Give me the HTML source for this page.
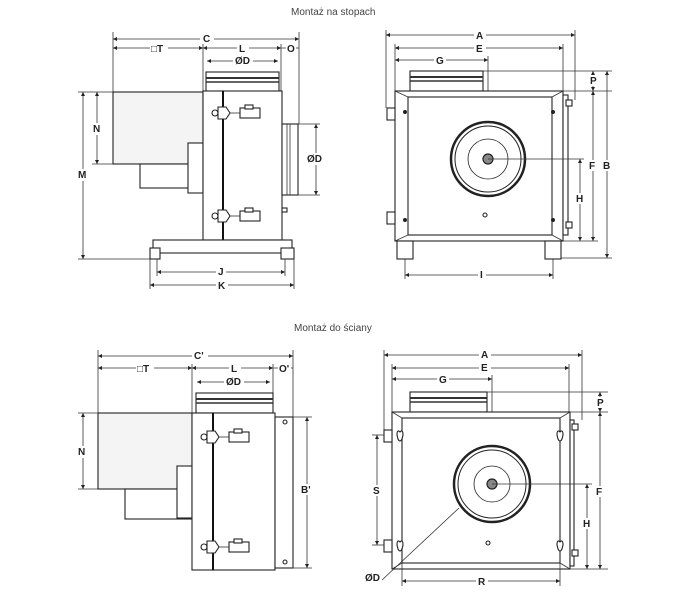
<!DOCTYPE html>
<html><head><meta charset="utf-8"><style>
html,body{margin:0;padding:0;background:#fff;}
svg{display:block;}
text{font-family:"Liberation Sans",sans-serif;font-weight:bold;font-size:10px;fill:#222;}
.t{font-weight:normal;font-size:10px;fill:#444;}
.d{stroke:#333;stroke-width:0.8;fill:none;}
.s{stroke:#222;stroke-width:1.1;fill:#fff;}
.g{stroke:#222;stroke-width:1.1;fill:#f4f4f4;}
</style></head><body>
<svg width="688" height="600" viewBox="0 0 688 600" xmlns="http://www.w3.org/2000/svg">
<defs>
<marker id="a" viewBox="0 0 6 6" refX="6" refY="3" markerWidth="5" markerHeight="5" orient="auto-start-reverse"><path d="M0,0L6,3L0,6z" fill="#222"/></marker>
</defs>
<text class="t" x="291" y="15">Montaż na stopach</text>
<text class="t" x="294" y="331">Montaż do ściany</text>

<!-- ===== TOP LEFT ===== -->
<g>
<line class="d" x1="113" y1="32" x2="113" y2="92"/><line class="d" x1="299" y1="32" x2="299" y2="124"/>
<line class="d" x1="113" y1="39" x2="299" y2="39" marker-start="url(#a)" marker-end="url(#a)"/>
<rect x="200" y="33" width="14" height="11" fill="#fff"/><text x="203" y="42">C</text>
<line class="d" x1="113" y1="48" x2="203" y2="48" marker-start="url(#a)" marker-end="url(#a)"/>
<line class="d" x1="203" y1="48" x2="281" y2="48" marker-start="url(#a)" marker-end="url(#a)"/>
<line class="d" x1="281" y1="48" x2="299" y2="48"/>
<line class="d" x1="203" y1="44" x2="203" y2="92"/><line class="d" x1="281" y1="44" x2="281" y2="92"/>
<rect x="150" y="43" width="18" height="10" fill="#fff"/><text x="151" y="52">□T</text>
<rect x="237" y="43" width="12" height="10" fill="#fff"/><text x="239" y="52">L</text>
<rect x="286" y="43" width="10" height="10" fill="#fff"/><text x="287" y="52">O</text>
<line class="d" x1="207" y1="61" x2="278" y2="61" marker-start="url(#a)" marker-end="url(#a)"/>
<rect x="233" y="55" width="20" height="11" fill="#fff"/><text x="235" y="64">ØD</text>
<rect class="s" x="206" y="72" width="73" height="20"/>
<line class="d" x1="206" y1="78" x2="279" y2="78" style="stroke-width:2"/><line class="d" x1="206" y1="82" x2="279" y2="82" style="stroke-width:1.5"/>
<rect class="g" x="113" y="92" width="90" height="72"/>
<rect class="s" x="140" y="164" width="63" height="24"/>
<rect class="s" x="188" y="143" width="15" height="50"/>
<rect class="s" x="203" y="91" width="20" height="149"/>
<rect class="s" x="223" y="91" width="59" height="149"/>
<line x1="223" y1="91" x2="223" y2="240" stroke="#111" stroke-width="2"/>
<rect class="s" x="282" y="124" width="16" height="71"/>
<line class="d" x1="287" y1="124" x2="287" y2="195"/><line class="d" x1="290" y1="124" x2="290" y2="195"/>
<g id="latch"><circle cx="215" cy="113" r="3" class="s"/><path d="M218,107L226,107L230,113L226,119L218,119z" class="s"/><line class="d" x1="230" y1="113" x2="240" y2="113"/><rect class="s" x="240" y="108" width="20" height="10"/><rect class="s" x="245" y="105" width="8" height="4"/></g>
<use href="#latch" transform="translate(0,103)"/>
<rect class="s" x="282" y="208" width="5" height="4"/>
<rect class="s" x="153" y="240" width="139" height="13"/>
<rect class="s" x="150" y="248" width="10" height="11"/><rect class="s" x="281" y="248" width="13" height="11"/>
<line class="d" x1="157" y1="259" x2="157" y2="276"/><line class="d" x1="285" y1="259" x2="285" y2="276"/>
<line class="d" x1="157" y1="272" x2="285" y2="272" marker-start="url(#a)" marker-end="url(#a)"/>
<rect x="216" y="266" width="10" height="11" fill="#fff"/><text x="218" y="275">J</text>
<line class="d" x1="150" y1="259" x2="150" y2="289"/><line class="d" x1="294" y1="259" x2="294" y2="289"/>
<line class="d" x1="150" y1="285" x2="294" y2="285" marker-start="url(#a)" marker-end="url(#a)"/>
<rect x="216" y="279" width="12" height="11" fill="#fff"/><text x="218" y="289">K</text>
<line class="d" x1="78" y1="92" x2="113" y2="92"/><line class="d" x1="78" y1="259" x2="150" y2="259"/><line class="d" x1="92" y1="164" x2="113" y2="164"/>
<line class="d" x1="83" y1="92" x2="83" y2="259" marker-start="url(#a)" marker-end="url(#a)"/>
<rect x="77" y="169" width="12" height="12" fill="#fff"/><text x="78" y="178">M</text>
<line class="d" x1="97" y1="92" x2="97" y2="164" marker-start="url(#a)" marker-end="url(#a)"/>
<rect x="91" y="123" width="12" height="12" fill="#fff"/><text x="93" y="132">N</text>
<line class="d" x1="298" y1="124" x2="320" y2="124"/><line class="d" x1="298" y1="195" x2="320" y2="195"/>
<line class="d" x1="316" y1="124" x2="316" y2="195" marker-start="url(#a)" marker-end="url(#a)"/>
<rect x="306" y="153" width="20" height="12" fill="#fff"/><text x="307" y="162">ØD</text>
</g>

<!-- ===== TOP RIGHT ===== -->
<g>
<line class="d" x1="386" y1="30" x2="386" y2="108"/><line class="d" x1="575" y1="30" x2="575" y2="100"/>
<line class="d" x1="386" y1="35" x2="575" y2="35" marker-start="url(#a)" marker-end="url(#a)"/>
<rect x="474" y="30" width="12" height="10" fill="#fff"/><text x="476" y="39">A</text>
<line class="d" x1="395" y1="44" x2="395" y2="91"/><line class="d" x1="563" y1="44" x2="563" y2="91"/>
<line class="d" x1="395" y1="48" x2="563" y2="48" marker-start="url(#a)" marker-end="url(#a)"/>
<rect x="474" y="43" width="12" height="10" fill="#fff"/><text x="476" y="52">E</text>
<line class="d" x1="395" y1="60" x2="488" y2="60" marker-start="url(#a)" marker-end="url(#a)"/>
<rect x="434" y="55" width="12" height="10" fill="#fff"/><text x="436" y="64">G</text>
<line class="d" x1="488" y1="56" x2="488" y2="159"/>
<rect class="s" x="410" y="71" width="73" height="20"/>
<line class="d" x1="410" y1="77" x2="483" y2="77" style="stroke-width:2"/><line class="d" x1="410" y1="81" x2="483" y2="81" style="stroke-width:1.5"/>
<line class="d" x1="483" y1="71" x2="612" y2="71"/>
<rect class="s" x="395" y="91" width="168" height="150"/>
<rect class="s" x="408" y="97" width="144" height="138"/>
<line class="d" x1="395" y1="91" x2="408" y2="97"/><line class="d" x1="563" y1="91" x2="552" y2="97"/><line class="d" x1="395" y1="241" x2="408" y2="235"/><line class="d" x1="563" y1="241" x2="552" y2="235"/>
<rect class="s" x="563" y="95" width="5" height="140"/>
<rect class="s" x="387" y="108" width="8" height="12"/><rect class="s" x="387" y="212" width="8" height="12"/>
<rect class="s" x="566" y="100" width="6" height="6"/><rect class="s" x="566" y="222" width="6" height="6"/>
<circle cx="405" cy="112" r="2" fill="#222"/><circle cx="553" cy="112" r="2" fill="#222"/><circle cx="405" cy="220" r="2" fill="#222"/><circle cx="553" cy="220" r="2" fill="#222"/>
<circle cx="488" cy="159" r="37" fill="#fff" stroke="#222" stroke-width="2.5"/>
<circle cx="488" cy="159" r="33" fill="none" stroke="#222" stroke-width="1"/>
<circle cx="488" cy="159" r="20" fill="none" stroke="#222" stroke-width="0.8"/>
<circle cx="488" cy="159" r="5" fill="#888" stroke="#222" stroke-width="1.2"/>
<circle cx="485" cy="215" r="2" class="s"/>
<line class="d" x1="488" y1="159" x2="584" y2="159"/>
<rect class="s" x="397" y="241" width="16" height="18"/><rect class="s" x="545" y="241" width="16" height="18"/>
<line class="d" x1="563" y1="91" x2="612" y2="91"/><line class="d" x1="563" y1="241" x2="598" y2="241"/><line class="d" x1="561" y1="258" x2="612" y2="258"/>
<line class="d" x1="593" y1="71" x2="593" y2="91" marker-start="url(#a)" marker-end="url(#a)"/>
<rect x="589" y="75" width="10" height="11" fill="#fff"/><text x="590" y="84">P</text>
<line class="d" x1="593" y1="91" x2="593" y2="241" marker-start="url(#a)" marker-end="url(#a)"/>
<rect x="588" y="160" width="10" height="11" fill="#fff"/><text x="589" y="169">F</text>
<line class="d" x1="607" y1="71" x2="607" y2="258" marker-start="url(#a)" marker-end="url(#a)"/>
<rect x="602" y="160" width="10" height="11" fill="#fff"/><text x="603" y="169">B</text>
<line class="d" x1="580" y1="159" x2="580" y2="241" marker-start="url(#a)" marker-end="url(#a)"/>
<rect x="575" y="193" width="10" height="11" fill="#fff"/><text x="576" y="202">H</text>
<line class="d" x1="405" y1="259" x2="405" y2="279"/><line class="d" x1="553" y1="259" x2="553" y2="279"/>
<line class="d" x1="405" y1="275" x2="553" y2="275" marker-start="url(#a)" marker-end="url(#a)"/>
<rect x="478" y="269" width="8" height="11" fill="#fff"/><text x="480" y="278">I</text>
</g>

<!-- ===== BOTTOM LEFT ===== -->
<g>
<line class="d" x1="98" y1="350" x2="98" y2="413"/><line class="d" x1="293" y1="350" x2="293" y2="417"/>
<line class="d" x1="98" y1="356" x2="293" y2="356" marker-start="url(#a)" marker-end="url(#a)"/>
<rect x="192" y="350" width="16" height="11" fill="#fff"/><text x="194" y="359">C'</text>
<line class="d" x1="98" y1="368" x2="192" y2="368" marker-start="url(#a)" marker-end="url(#a)"/>
<line class="d" x1="192" y1="368" x2="273" y2="368" marker-start="url(#a)" marker-end="url(#a)"/>
<line class="d" x1="273" y1="368" x2="293" y2="368"/>
<line class="d" x1="192" y1="364" x2="192" y2="413"/><line class="d" x1="273" y1="364" x2="273" y2="393"/>
<rect x="136" y="363" width="18" height="10" fill="#fff"/><text x="137" y="372">□T</text>
<rect x="229" y="363" width="12" height="10" fill="#fff"/><text x="231" y="372">L</text>
<rect x="278" y="363" width="13" height="10" fill="#fff"/><text x="279" y="372">O'</text>
<line class="d" x1="197" y1="382" x2="270" y2="382" marker-start="url(#a)" marker-end="url(#a)"/>
<rect x="224" y="376" width="20" height="11" fill="#fff"/><text x="226" y="385">ØD</text>
<rect class="s" x="196" y="393" width="77" height="20"/>
<line class="d" x1="196" y1="399" x2="273" y2="399" style="stroke-width:2"/><line class="d" x1="196" y1="403" x2="273" y2="403" style="stroke-width:1.5"/>
<rect class="g" x="98" y="413" width="94" height="76"/>
<rect class="s" x="125" y="489" width="67" height="30"/>
<rect class="s" x="177" y="466" width="15" height="52"/>
<rect class="s" x="192" y="413" width="21" height="157"/>
<rect class="s" x="213" y="413" width="62" height="157"/>
<line x1="213" y1="413" x2="213" y2="570" stroke="#111" stroke-width="2"/>
<rect class="s" x="275" y="417" width="18" height="151"/>
<circle cx="285" cy="422" r="2" class="s"/><circle cx="285" cy="562" r="2" class="s"/>
<use href="#latch" transform="translate(-11,324)"/>
<use href="#latch" transform="translate(-11,434)"/>
<line class="d" x1="293" y1="417" x2="312" y2="417"/><line class="d" x1="293" y1="568" x2="312" y2="568"/>
<line class="d" x1="307" y1="417" x2="307" y2="568" marker-start="url(#a)" marker-end="url(#a)"/>
<rect x="300" y="484" width="15" height="11" fill="#fff"/><text x="301" y="493">B'</text>
<line class="d" x1="78" y1="413" x2="98" y2="413"/><line class="d" x1="78" y1="489" x2="98" y2="489"/>
<line class="d" x1="83" y1="413" x2="83" y2="489" marker-start="url(#a)" marker-end="url(#a)"/>
<rect x="77" y="446" width="12" height="12" fill="#fff"/><text x="78" y="455">N</text>
</g>

<!-- ===== BOTTOM RIGHT ===== -->
<g>
<line class="d" x1="384" y1="350" x2="384" y2="430"/><line class="d" x1="582" y1="350" x2="582" y2="420"/>
<line class="d" x1="384" y1="355" x2="582" y2="355" marker-start="url(#a)" marker-end="url(#a)"/>
<rect x="479" y="349" width="12" height="11" fill="#fff"/><text x="481" y="358">A</text>
<line class="d" x1="392" y1="364" x2="392" y2="412"/><line class="d" x1="569" y1="364" x2="569" y2="412"/>
<line class="d" x1="392" y1="368" x2="569" y2="368" marker-start="url(#a)" marker-end="url(#a)"/>
<rect x="479" y="362" width="12" height="11" fill="#fff"/><text x="481" y="371">E</text>
<line class="d" x1="392" y1="379" x2="492" y2="379" marker-start="url(#a)" marker-end="url(#a)"/>
<rect x="437" y="374" width="12" height="10" fill="#fff"/><text x="439" y="383">G</text>
<line class="d" x1="492" y1="375" x2="492" y2="484"/>
<rect class="s" x="410" y="392" width="77" height="20"/>
<line class="d" x1="410" y1="398" x2="487" y2="398" style="stroke-width:2"/><line class="d" x1="410" y1="402" x2="487" y2="402" style="stroke-width:1.5"/>
<line class="d" x1="487" y1="392" x2="608" y2="392"/>
<rect class="s" x="392" y="412" width="178" height="157"/>
<rect class="s" x="402" y="418" width="158" height="145"/>
<line class="d" x1="392" y1="412" x2="402" y2="418"/><line class="d" x1="570" y1="412" x2="560" y2="418"/><line class="d" x1="392" y1="569" x2="402" y2="563"/><line class="d" x1="570" y1="569" x2="560" y2="563"/>
<rect class="s" x="570" y="420" width="4" height="146"/>
<rect class="s" x="384" y="430" width="8" height="12"/><rect class="s" x="384" y="540" width="8" height="12"/>
<rect class="s" x="572" y="424" width="6" height="6"/><rect class="s" x="572" y="550" width="6" height="6"/>
<path d="M400,432 q3,-3 3,3 l-1,4 q-2,4 -4,0 l-1,-4 q0,-6 3,-3z" class="s"/>
<path d="M560,432 q3,-3 3,3 l-1,4 q-2,4 -4,0 l-1,-4 q0,-6 3,-3z" class="s"/>
<path d="M400,542 q3,-3 3,3 l-1,4 q-2,4 -4,0 l-1,-4 q0,-6 3,-3z" class="s"/>
<path d="M560,542 q3,-3 3,3 l-1,4 q-2,4 -4,0 l-1,-4 q0,-6 3,-3z" class="s"/>
<circle cx="492" cy="484" r="38" fill="#fff" stroke="#222" stroke-width="2.5"/>
<circle cx="492" cy="484" r="34" fill="none" stroke="#222" stroke-width="1"/>
<circle cx="492" cy="484" r="18" fill="none" stroke="#222" stroke-width="0.8"/>
<circle cx="492" cy="484" r="5" fill="#888" stroke="#222" stroke-width="1.2"/>
<circle cx="488" cy="543" r="2" class="s"/>
<line class="d" x1="492" y1="484" x2="592" y2="484"/>
<line class="d" x1="459" y1="508" x2="382" y2="580"/>
<text x="365" y="581">ØD</text>
<line class="d" x1="372" y1="435" x2="384" y2="435"/><line class="d" x1="372" y1="545" x2="384" y2="545"/>
<line class="d" x1="377" y1="435" x2="377" y2="545" marker-start="url(#a)" marker-end="url(#a)"/>
<rect x="372" y="485" width="10" height="11" fill="#fff"/><text x="373" y="494">S</text>
<line class="d" x1="570" y1="412" x2="608" y2="412"/><line class="d" x1="570" y1="569" x2="608" y2="569"/>
<line class="d" x1="600" y1="392" x2="600" y2="412" marker-start="url(#a)" marker-end="url(#a)"/>
<rect x="596" y="397" width="10" height="11" fill="#fff"/><text x="597" y="406">P</text>
<line class="d" x1="600" y1="412" x2="600" y2="569" marker-start="url(#a)" marker-end="url(#a)"/>
<rect x="595" y="486" width="10" height="11" fill="#fff"/><text x="596" y="495">F</text>
<line class="d" x1="587" y1="484" x2="587" y2="569" marker-start="url(#a)" marker-end="url(#a)"/>
<rect x="582" y="518" width="10" height="11" fill="#fff"/><text x="583" y="527">H</text>
<line class="d" x1="402" y1="563" x2="402" y2="586"/><line class="d" x1="560" y1="563" x2="560" y2="586"/>
<line class="d" x1="402" y1="581" x2="560" y2="581" marker-start="url(#a)" marker-end="url(#a)"/>
<rect x="476" y="576" width="12" height="11" fill="#fff"/><text x="478" y="585">R</text>
</g>
</svg>
</body></html>
